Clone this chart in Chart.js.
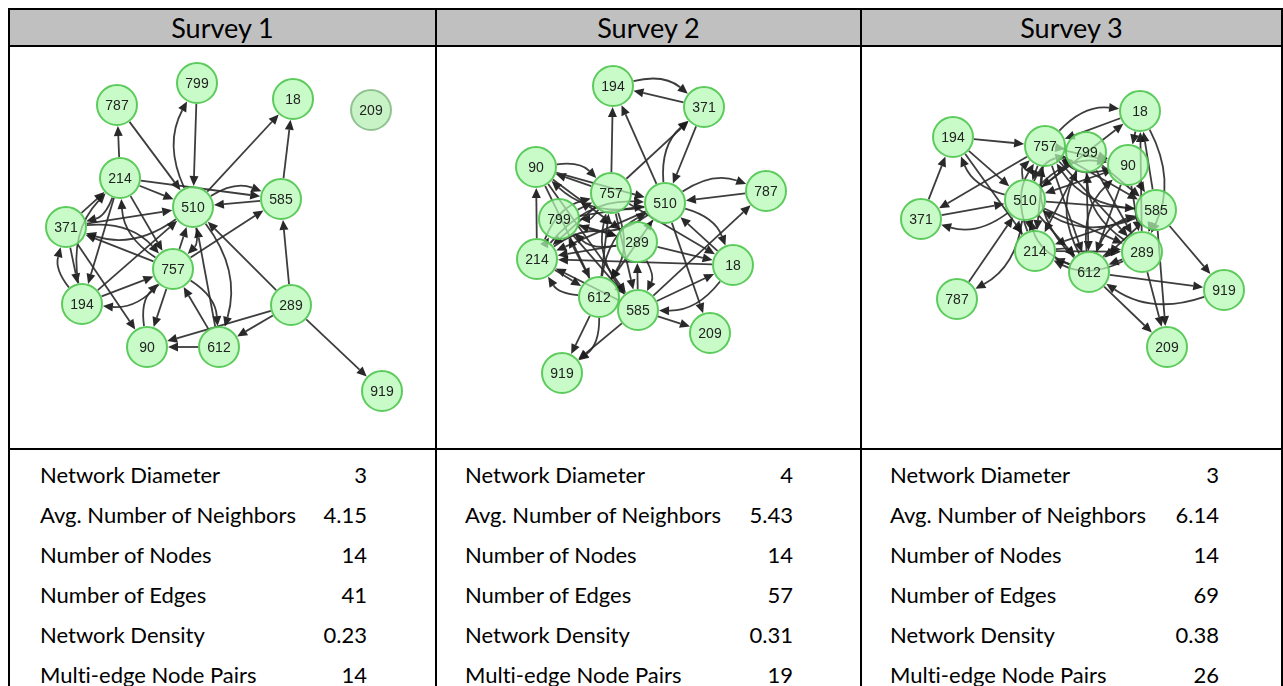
<!DOCTYPE html>
<html>
<head>
<meta charset="utf-8">
<script src="https://cdn.jsdelivr.net/npm/chart.js@4.4.1/dist/chart.umd.min.js"></script>
<style>
  body { margin: 0; background: #fff; }
  #page { position: relative; width: 1283px; height: 686px; overflow: hidden; font-family: Lato, "Open Sans", sans-serif; color: #000; font-variant-ligatures: none; }
  .ln { position: absolute; background: #000; }
  .head { position: absolute; top: 10px; height: 35px; line-height: 36px; text-align: center; font-size: 27px; }
  .cell { position: absolute; top: 47px; }
  .cell canvas { display: block; }
  .row { position: absolute; font-size: 22px; height: 40px; line-height: 40px; white-space: nowrap; }
  .val { position: absolute; font-size: 22px; height: 40px; line-height: 40px; text-align: right; }
</style>
</head>
<body>
<div id="page">
  <div style="position:absolute;left:10px;top:10px;width:1271px;height:35px;background:#c0c0c0"></div>
  <div class="ln" style="left:8px;top:8px;width:1275px;height:2px"></div>
  <div class="ln" style="left:8px;top:45px;width:1275px;height:2px"></div>
  <div class="ln" style="left:8px;top:448px;width:1275px;height:2px"></div>
  <div class="ln" style="left:8px;top:8px;width:2px;height:678px"></div>
  <div class="ln" style="left:435px;top:8px;width:2px;height:678px"></div>
  <div class="ln" style="left:860px;top:8px;width:2px;height:678px"></div>
  <div class="ln" style="left:1281px;top:8px;width:2px;height:678px"></div>

  <div class="head" style="left:10px;width:425px">Survey 1</div>
  <div class="head" style="left:437px;width:423px">Survey 2</div>
  <div class="head" style="left:862px;width:419px">Survey 3</div>

  <div class="cell" style="left:10px"><canvas id="g1" width="425" height="401"></canvas></div>
  <div class="cell" style="left:437px"><canvas id="g2" width="423" height="401"></canvas></div>
  <div class="cell" style="left:862px"><canvas id="g3" width="419" height="401"></canvas></div>
  <div id="stats"></div>
</div>
<script>
// statistiche sotto i grafici
var statLabels = ['Network Diameter', 'Avg. Number of Neighbors', 'Number of Nodes', 'Number of Edges', 'Network Density', 'Multi-edge Node Pairs'];
var stats1 = ['3', '4.15', '14', '41', '0.23', '14'];
var stats2 = ['4', '5.43', '14', '57', '0.31', '19'];
var stats3 = ['3', '6.14', '14', '69', '0.38', '26'];

// Survey 1: nodi (coordinate nel riquadro) e archi
var names1 = ['799', '787', '214', '510', '371', '18', '209', '585', '757', '194', '90', '612', '289', '919'];
var x1 = [187, 107, 110, 183, 56, 283, 361, 271, 163, 72, 137, 209, 281, 372];
var y1 = [36, 58, 131, 160, 180, 52, 63, 152, 222, 257, 300, 300, 258, 344];
var edges1 = [
  ['799','510'], ['510','799'], ['787','510'], ['214','787'], ['585','510'], ['510','585'], ['214','585'],
  ['510','18'], ['585','18'], ['289','585'], ['371','214'], ['214','371'], ['371','510'], ['510','371'],
  ['757','371'], ['371','757'], ['371','194'], ['194','371'], ['194','510'], ['214','194'], ['194','214'],
  ['214','757'], ['757','214'], ['757','510'], ['510','757'], ['757','585'], ['757','90'], ['90','757'],
  ['194','757'], ['757','194'], ['371','90'], ['612','90'], ['289','90'], ['612','757'], ['757','612'],
  ['612','510'], ['510','612'], ['289','612'], ['289','510'], ['289','919'], ['214','510']
];

// Survey 2
var names2 = ['194', '371', '90', '757', '510', '787', '799', '289', '214', '18', '612', '585', '209', '919'];
var x2 = [176, 267, 99, 174, 228, 329, 122, 200, 100, 296, 162, 201, 273, 125];
var y2 = [39, 60, 120, 146, 156, 144, 172, 195, 212, 218, 250, 263, 286, 326];
var edges2 = [
  ['371','194'], ['194','371'], ['757','194'], ['510','194'], ['371','510'], ['510','371'], ['757','371'],
  ['787','510'], ['510','787'], ['757','90'], ['90','757'], ['90','510'], ['510','90'], ['214','90'],
  ['18','510'], ['510','18'], ['757','18'], ['585','787'], ['585','18'], ['18','585'], ['510','209'],
  ['585','209'], ['612','919'], ['612','919'], ['585','919'], ['289','214'], ['214','289'], ['510','214'],
  ['757','214'], ['214','757'], ['585','214'], ['18','214'], ['214','612'], ['612','214'], ['799','289'],
  ['289','799'], ['757','585'], ['585','757'], ['510','612'], ['612','510'], ['799','585'], ['90','585'],
  ['90','612'], ['799','510'], ['510','799'], ['289','510'], ['612','757'], ['757','612'], ['289','18'],
  ['214','510'], ['799','757'], ['757','799'], ['585','289'], ['289','585'], ['612','799'], ['90','289'],
  ['214','799']
];

// Survey 3
var names3 = ['194', '757', '510', '371', '18', '799', '90', '585', '214', '289', '612', '787', '209', '919'];
var x3 = [91, 183, 163, 59, 278, 224, 266, 294, 173, 280, 227, 95, 305, 362];
var y3 = [90, 99, 153, 172, 64, 105, 118, 163, 204, 205, 225, 252, 300, 243];
var edges3 = [
  ['194','757'], ['194','510'], ['510','194'], ['757','371'], ['371','194'], ['371','510'], ['510','371'],
  ['787','510'], ['510','787'], ['18','757'], ['757','18'], ['510','18'], ['585','18'], ['289','18'],
  ['18','289'], ['585','919'], ['612','919'], ['919','612'], ['612','209'], ['585','209'], ['289','209'],
  ['612','214'], ['214','612'], ['289','612'], ['612','289'], ['757','510'], ['510','757'], ['757','799'],
  ['799','757'], ['757','90'], ['90','757'], ['757','585'], ['585','757'], ['757','214'], ['214','757'],
  ['757','612'], ['612','757'], ['757','289'], ['799','510'], ['510','799'], ['799','90'], ['90','799'],
  ['799','612'], ['612','799'], ['799','289'], ['289','799'], ['799','214'], ['90','510'], ['510','90'],
  ['90','612'], ['612','90'], ['90','289'], ['90','585'], ['510','585'], ['585','510'], ['510','214'],
  ['214','510'], ['510','612'], ['612','510'], ['510','289'], ['585','612'], ['612','585'], ['585','214'],
  ['214','289'], ['289','214'], ['585','289'], ['194','214'], ['18','90'], ['799','585']
];

var NODE_R = 20;

// archi con freccia, disegnati sotto i nodi
var edgePlugin = {
  id: 'edges',
  beforeDatasetsDraw: function(chart) {
    var cfg = chart.options.plugins.edges;
    var xs = chart.scales.x, ys = chart.scales.y, ctx = chart.ctx;
    var pos = {};
    cfg.names.forEach(function(n, i) {
      pos[n] = [xs.getPixelForValue(cfg.x[i]), ys.getPixelForValue(cfg.y[i])];
    });
    var seen = {};
    ctx.save();
    ctx.strokeStyle = 'rgba(45,45,45,0.92)';
    ctx.fillStyle = 'rgba(30,30,30,0.95)';
    ctx.lineWidth = 1.8;
    cfg.edges.forEach(function(e) {
      var a = pos[e[0]], b = pos[e[1]];
      var key = [e[0], e[1]].sort().join('-');
      var bent = seen[key];
      seen[key] = true;
      var dx = b[0] - a[0], dy = b[1] - a[1];
      var cx = (a[0] + b[0]) / 2, cy = (a[1] + b[1]) / 2;
      if (bent) { cx += dy * 0.25; cy -= dx * 0.25; }
      var r = NODE_R + 1;
      var sx = cx - a[0], sy = cy - a[1], sl = Math.hypot(sx, sy);
      var p0 = [a[0] + sx / sl * r, a[1] + sy / sl * r];
      var ex = b[0] - cx, ey = b[1] - cy, el = Math.hypot(ex, ey);
      var ux = ex / el, uy = ey / el;
      var p1 = [b[0] - ux * r, b[1] - uy * r];
      var ah = 10, aw = 4.5;
      var base = [p1[0] - ux * ah, p1[1] - uy * ah];
      ctx.beginPath();
      ctx.moveTo(p0[0], p0[1]);
      ctx.quadraticCurveTo(cx, cy, base[0], base[1]);
      ctx.stroke();
      ctx.beginPath();
      ctx.moveTo(p1[0], p1[1]);
      ctx.lineTo(base[0] - uy * aw, base[1] + ux * aw);
      ctx.lineTo(base[0] + uy * aw, base[1] - ux * aw);
      ctx.closePath();
      ctx.fill();
    });
    ctx.restore();
  },
  afterDatasetsDraw: function(chart) {
    var cfg = chart.options.plugins.edges;
    var meta = chart.getDatasetMeta(0), ctx = chart.ctx;
    ctx.save();
    ctx.font = '14px "Liberation Sans", Arial, sans-serif';
    ctx.fillStyle = '#222';
    ctx.textAlign = 'center';
    ctx.textBaseline = 'middle';
    meta.data.forEach(function(pt, i) {
      ctx.fillText(cfg.names[i], pt.x, pt.y + 1);
    });
    ctx.restore();
  }
};

function makeGraph(id, names, xs, ys, edges, faded) {
  var canvas = document.getElementById(id);
  new Chart(canvas, {
    type: 'scatter',
    data: {
      datasets: [{
        data: names.map(function(n, i) { return { x: xs[i], y: ys[i] }; }),
        pointRadius: NODE_R,
        pointHoverRadius: NODE_R,
        pointBackgroundColor: names.map(function(n) { return faded.indexOf(n) >= 0 ? 'rgba(185,240,185,0.8)' : 'rgba(180,250,180,0.72)'; }),
        pointBorderColor: names.map(function(n) { return faded.indexOf(n) >= 0 ? 'rgba(120,175,120,0.75)' : 'rgba(85,200,85,0.95)'; }),
        pointBorderWidth: 2,
        clip: false
      }]
    },
    options: {
      responsive: false, animation: false, events: [], devicePixelRatio: 1,
      layout: { padding: 0, autoPadding: false },
      plugins: {
        legend: { display: false }, tooltip: { enabled: false },
        edges: { names: names, x: xs, y: ys, edges: edges }
      },
      scales: {
        x: { type: 'linear', min: 0, max: canvas.width, display: false },
        y: { type: 'linear', min: 0, max: canvas.height, reverse: true, display: false }
      }
    },
    plugins: [edgePlugin]
  });
}

makeGraph('g1', names1, x1, y1, edges1, ['209']);
makeGraph('g2', names2, x2, y2, edges2, []);
makeGraph('g3', names3, x3, y3, edges3, []);

// tabella delle statistiche
var statsBox = document.getElementById('stats');
[[40, 367, stats1], [465, 793, stats2], [890, 1219, stats3]].forEach(function(col) {
  statLabels.forEach(function(lab, i) {
    var top = 455 + i * 40;
    var l = document.createElement('div');
    l.className = 'row';
    l.style.left = col[0] + 'px'; l.style.top = top + 'px';
    l.textContent = lab;
    statsBox.appendChild(l);
    var v = document.createElement('div');
    v.className = 'val';
    v.style.left = (col[1] - 100) + 'px'; v.style.width = '100px'; v.style.top = top + 'px';
    v.textContent = col[2][i];
    statsBox.appendChild(v);
  });
});
</script>
</body>
</html>
